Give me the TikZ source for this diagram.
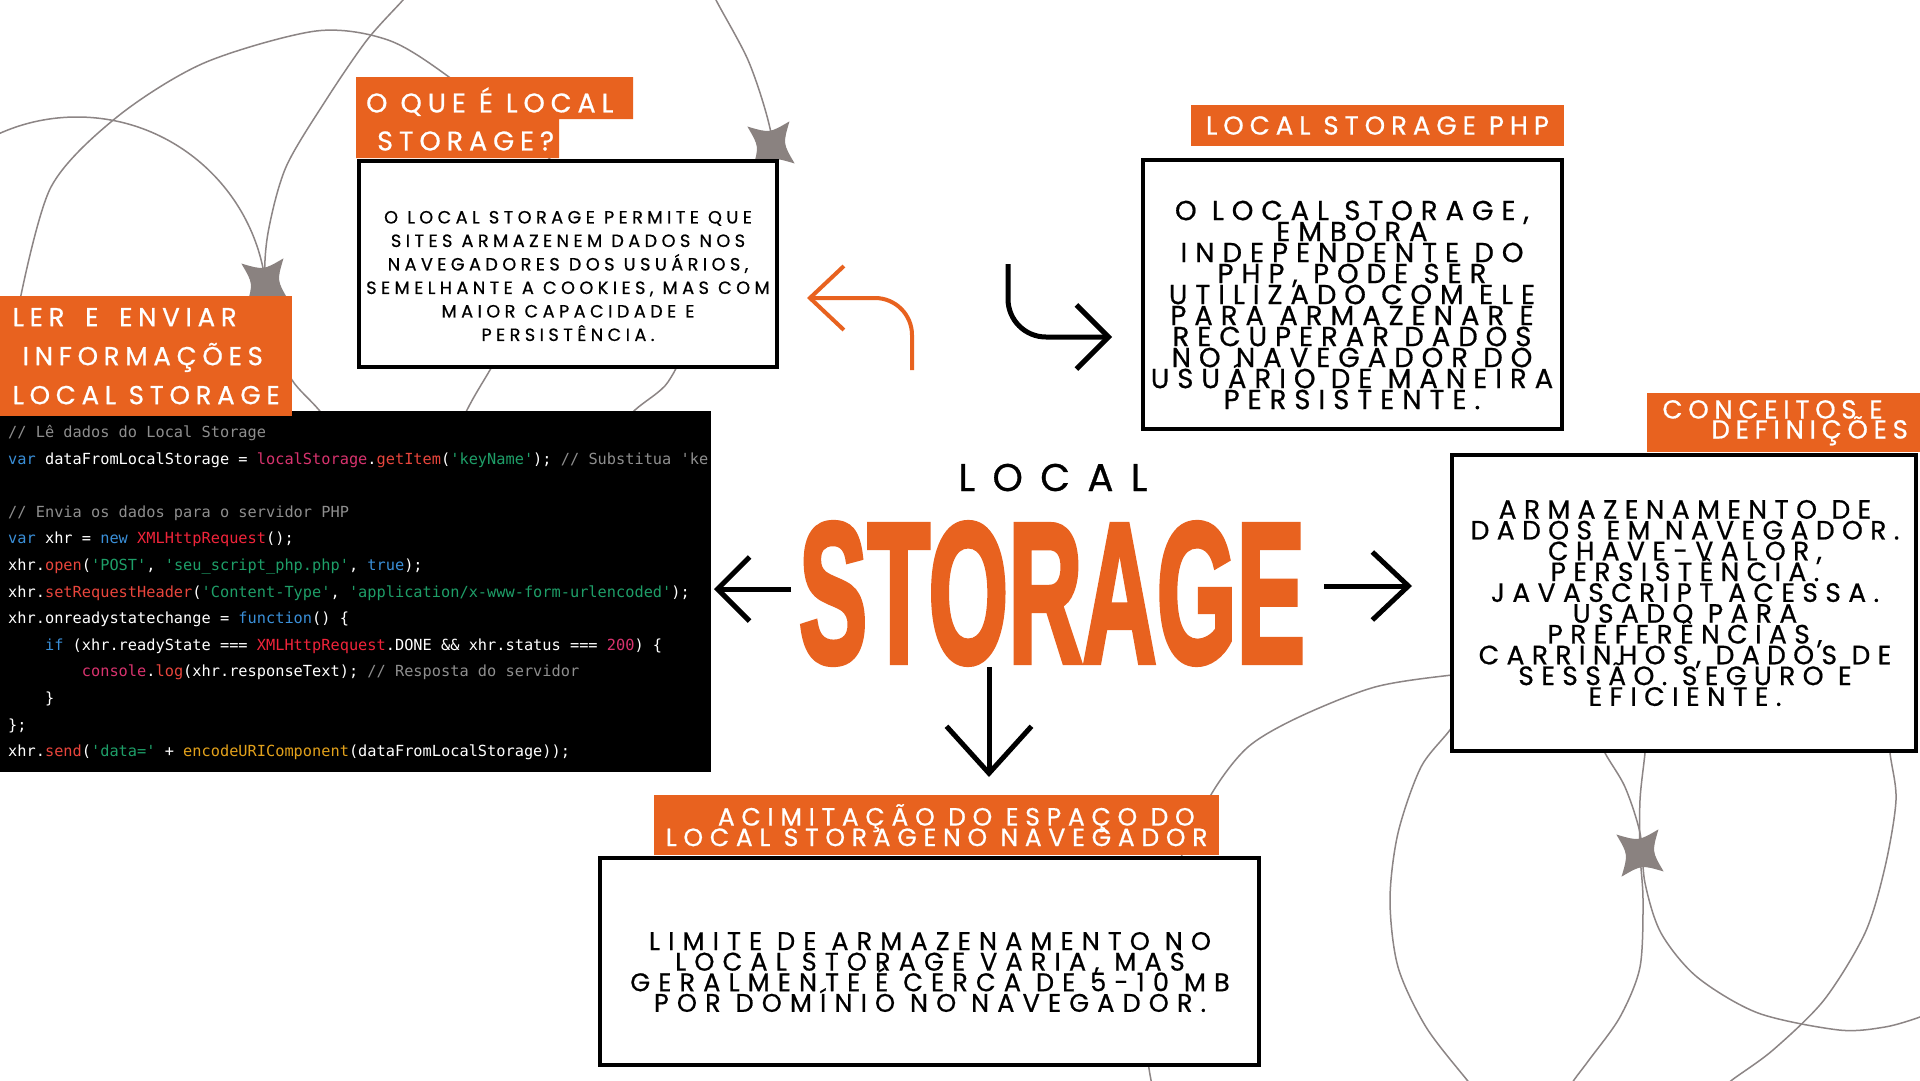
\documentclass[tikz,border=0pt]{standalone}
\usepackage{fontspec}
\usepackage{graphicx}
\usepackage{tikz}
\usetikzlibrary{arrows.meta}

\newfontfamily\geofont{Poppins}[FakeBold=0.7]
\newfontfamily\codefont{DejaVu Sans Mono}
\newfontfamily\titlefont{Liberation Sans Bold}[FakeBold=3]

\definecolor{brandorange}{HTML}{E8621F}
\definecolor{orbitgray}{HTML}{8C8585}
\definecolor{sparkgray}{HTML}{8A8280}
\definecolor{codekw}{HTML}{3A8FD8}
\definecolor{codestr}{HTML}{1E9E68}
\definecolor{codefn}{HTML}{E8453C}
\definecolor{codecls}{HTML}{F0243A}
\definecolor{codelib}{HTML}{D8336E}
\definecolor{codecmt}{HTML}{8E8E8E}
\definecolor{codeenc}{HTML}{E2A11B}

% size, line pitch, tracking
\newcommand\geosize[3]{\geofont\fontsize{#1}{#2}\selectfont\addfontfeature{LetterSpace=#3}\lineskiplimit=-100pt }

\newcommand\jskw[1]{\textcolor{codekw}{#1}}
\newcommand\jsstr[1]{\textcolor{codestr}{#1}}
\newcommand\jsfn[1]{\textcolor{codefn}{#1}}
\newcommand\jscls[1]{\textcolor{codecls}{#1}}
\newcommand\jslib[1]{\textcolor{codelib}{#1}}
\newcommand\jscmt[1]{\textcolor{codecmt}{#1}}
\newcommand\jsenc[1]{\textcolor{codeenc}{#1}}

\newcommand\sparkle[1]{\fill[sparkgray, shift={#1}] (38:30) .. controls (83:12) .. (128:30) .. controls (173:12) .. (218:30) .. controls (263:12) .. (308:30) .. controls (353:12) .. (38:30) -- cycle;}

\begin{document}
\begin{tikzpicture}[x=1pt, y=-1pt,
  orbit/.style={orbitgray, line width=1.5pt},
  panel/.style={draw=black, line width=4pt, fill=white, inner sep=0pt},
  tagbox/.style={fill=brandorange, text=white, inner sep=0pt, align=left},
  bodytext/.style={align=center, inner sep=0pt},
  codetext/.style={font=\codefont\fontsize{15.3}{20}\selectfont, text=white, inner sep=0pt},
  bigarrow/.style={line width=5pt, -{Straight Barb[length=32pt,width=64pt]}}]

\useasboundingbox (0,0) rectangle (1920,1080);
\fill[white] (0,0) rectangle (1920,1080);

% Orbit lines, upper left
\draw[orbit] (77,307) circle (190pt);
\draw[orbit] plot[smooth] coordinates {(20,300) (51,187) (117,117) (204,63) (316,31) (388,40) (449,77) (540,150) (640,250) (680,340) (668,382) (635,410) (600,445)};
\draw[orbit] plot[smooth] coordinates {(410,-10) (403,0) (367,40) (326,100) (286,167) (268,233) (265,285) (275,340) (292,380) (319,410) (350,450)};
\draw[orbit] plot[smooth] coordinates {(708,-20) (716,0) (748,60) (768,120) (776,170) (770,230) (740,300)};
\draw[orbit] plot[smooth] coordinates {(560,250) (520,320) (490,370) (467,410) (440,470)};

% Orbit lines, lower right
\draw[orbit] plot[smooth] coordinates {(1500,672) (1452,675) (1375,687) (1299,717) (1248,747) (1212,793) (1180,860) (1155,950) (1146,1030) (1151,1080) (1160,1100)};
\draw[orbit] plot[smooth] coordinates {(1590,720) (1605,753) (1625,787) (1640,833) (1645,883) (1661,933) (1697,977) (1758,1013) (1839,1030) (1885,1027) (1920,1017) (1940,1008)};
\draw[orbit] plot[smooth] coordinates {(1650,700) (1645,753) (1640,800) (1640,853) (1643,900) (1640,967) (1620,1017) (1589,1060) (1574,1080) (1565,1095)};
\draw[orbit] plot[smooth] coordinates {(1885,700) (1890,753) (1896,800) (1885,867) (1865,933) (1824,1000) (1773,1050) (1732,1080) (1715,1095)};
\draw[orbit] plot[smooth] coordinates {(1470,690) (1452,727) (1421,767) (1398,833) (1390,900) (1398,967) (1426,1027) (1467,1080) (1480,1095)};

% Sparkles where the orbits cross
\sparkle{(265,282)}
\sparkle{(771,145)}
\sparkle{(1640,853)}

% Code panel
\node[fill=black, minimum width=711pt, minimum height=361pt, inner sep=0pt, anchor=north west] (codebox) at (0,411) {};
\begin{scope}
\clip (codebox.north west) rectangle (codebox.south east);
\foreach \codeline [count=\i from 0] in {
  {\jscmt{// Lê dados do Local Storage}},
  {\jskw{var} dataFromLocalStorage = \jslib{localStorage}.\jsfn{getItem}(\jsstr{'keyName'}); \jscmt{// Substitua 'ke}},
  {},
  {\jscmt{// Envia os dados para o servidor PHP}},
  {\jskw{var} xhr = \jskw{new} \jscls{XMLHttpRequest}();},
  {xhr.\jsfn{open}(\jsstr{'POST'}, \jsstr{'seu\_script\_php.php'}, \jskw{true});},
  {xhr.\jsfn{setRequestHeader}(\jsstr{'Content-Type'}, \jsstr{'application/x-www-form-urlencoded'});},
  {xhr.onreadystatechange = \jskw{function}() \{},
  {\phantom{0000}\jskw{if} (xhr.readyState === \jscls{XMLHttpRequest}.DONE \&\& xhr.status === \jslib{200}) \{},
  {\phantom{00000000}\jslib{console}.\jsfn{log}(xhr.responseText); \jscmt{// Resposta do servidor}},
  {\phantom{0000}\}},
  {\};},
  {xhr.\jsfn{send}(\jsstr{'data='} + \jsenc{encodeURIComponent}(dataFromLocalStorage));}}
  \node[codetext, anchor=base west] (code\i) at (8,{437.5+26.6*\i}) {\codeline};
\end{scope}

% Boxes
\node[panel, minimum width=418pt, minimum height=206pt] (whatbox) at (568,264) {};
\node[panel, minimum width=419pt, minimum height=269pt] (phpbox) at (1352.5,294.5) {};
\node[panel, minimum width=464pt, minimum height=296pt] (conceptbox) at (1684,603) {};
\node[panel, minimum width=659pt, minimum height=207pt] (limitbox) at (929.5,961.5) {};

% Orange tags
\fill[brandorange] (356,77) -- (633,77) -- (633,119) -- (559,119) -- (559,158) -- (356,158) -- cycle;
\node[anchor=west, align=left, text=white, inner sep=0pt, font=\geosize{27}{38}{22}] (whatlbl) at (366,119) {O QUE É LOCAL\\\hspace*{11pt}STORAGE?};
\node[tagbox, anchor=north west, minimum width=292pt, minimum height=120pt, font=\geosize{26}{39}{22}] (readlbl) at (0,296) {LER\hspace{8pt} E\hspace{8pt} ENVIAR\\\hspace*{10pt}INFORMAÇÕES\\LOCAL STORAGE};
\node[tagbox, minimum width=373pt, minimum height=41pt, font=\geosize{26}{30}{23}] (phplbl) at (1377.5,125.5) {LOCAL STORAGE PHP};
\node[tagbox, anchor=north west, minimum width=276pt, minimum height=59pt, font=\geosize{26}{20}{22}] (conceptlbl) at (1647,393) {CONCEITOS E\\\hspace*{49pt}DEFINIÇÕES};
\node[tagbox, anchor=north west, minimum width=565pt, minimum height=60pt, font=\geosize{25}{20.5}{27}] (limitlbl) at (654,795) {\hspace*{52pt}ACIMITAÇÃO DO ESPAÇO DO\\LOCAL STORAGENO NAVEGADOR};

% Box texts
\node[bodytext, font=\geosize{17.7}{23.5}{25}] (whattxt) at (568,276) {O LOCAL STORAGE PERMITE QUE\\SITES ARMAZENEM DADOS NOS\\NAVEGADORES DOS USUÁRIOS,\\SEMELHANTE A COOKIES, MAS COM\\MAIOR CAPACIDADE E\\PERSISTÊNCIA.};
\node[bodytext, font=\geosize{27.5}{21}{29}] (phptxt) at (1352,305) {O LOCAL STORAGE,\\EMBORA\\INDEPENDENTE DO\\PHP, PODE SER\\UTILIZADO COM ELE\\PARA ARMAZENAR E\\RECUPERAR DADOS\\NO NAVEGADOR DO\\USUÁRIO DE MANEIRA\\PERSISTENTE.};
\node[bodytext, font=\geosize{26.5}{20.8}{28}] (concepttxt) at (1685,603) {ARMAZENAMENTO DE\\DADOS EM NAVEGADOR.\\CHAVE-VALOR,\\PERSISTÊNCIA.\\JAVASCRIPT ACESSA.\\USADO PARA\\PREFERÊNCIAS,\\CARRINHOS, DADOS DE\\SESSÃO. SEGURO E\\EFICIENTE.};
\node[bodytext, font=\geosize{25.5}{20.6}{32}] (limittxt) at (930,972) {LIMITE DE ARMAZENAMENTO NO\\LOCAL STORAGE VARIA, MAS\\GERALMENTE É CERCA DE 5-10 MB\\POR DOMÍNIO NO NAVEGADOR.};

% Title
\node[inner sep=0pt, font=\geosize{38.6}{40}{45}] (localtxt) at (1053,477.5) {LOCAL};
\node[inner sep=0pt, text=brandorange] (storagetxt) at (1052,593.5) {\resizebox{506pt}{139pt}{\titlefont STORAGE}};

% Arrows
\coordinate (toCodeA) at (791,589);
\coordinate (toCodeB) at (714,589);
\coordinate (toConceptA) at (1324,586);
\coordinate (toConceptB) at (1412,586);
\coordinate (toLimitA) at (989,667);
\coordinate (toLimitB) at (989,777);
\coordinate (toWhatA) at (912,370);
\coordinate (toWhatB) at (807,298);
\coordinate (toPhpA) at (1008,264);
\coordinate (toPhpB) at (1112,337);

\draw[bigarrow] (toCodeA) -- (toCodeB);
\draw[bigarrow, -{Straight Barb[length=36pt,width=68pt]}] (toConceptA) -- (toConceptB);
\draw[bigarrow, -{Straight Barb[length=47pt,width=85pt]}] (toLimitA) -- (toLimitB);
\draw[bigarrow, rounded corners=38pt] (toPhpA) |- (toPhpB);
\draw[brandorange, line width=4pt, rounded corners=37pt, -{Straight Barb[length=34pt,width=64pt]}] (toWhatA) |- (toWhatB);

\end{tikzpicture}
\end{document}
